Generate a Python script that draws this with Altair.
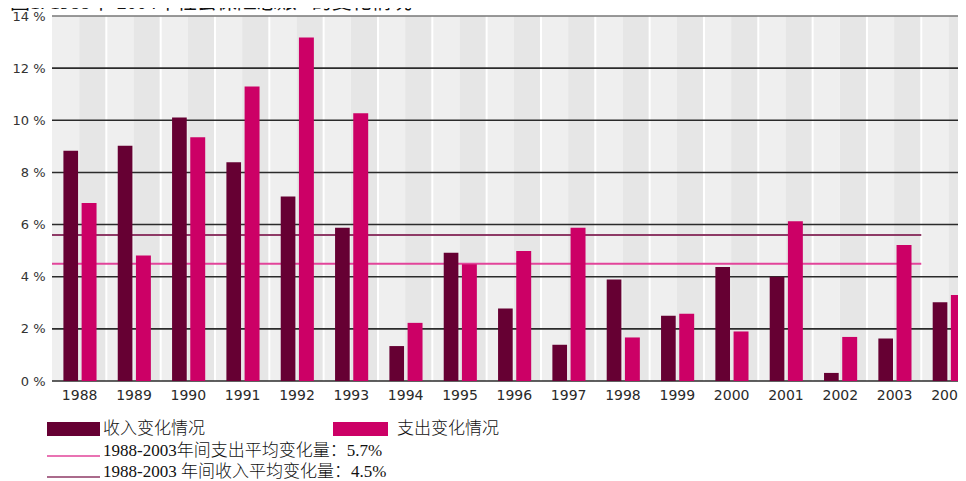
import altair as alt
import pandas as pd

# ---- data ----
years = list(range(1988, 2005))
income = [8.83, 9.02, 10.11, 8.39, 7.08, 5.88, 1.34, 4.92, 2.78, 1.39, 3.89, 2.50, 4.37, 4.00, 0.31, 1.63, 3.02]
expense = [6.83, 4.81, 9.35, 11.30, 13.18, 10.27, 2.23, 4.48, 4.99, 5.88, 1.67, 2.58, 1.90, 6.13, 1.69, 5.22, 3.30]
y_ticks = [0, 2, 4, 6, 8, 10, 12, 14]
mean_names = ["income_avg_line", "expense_avg_line"]
mean_values = [5.6, 4.5]
mean_span = [1987.5, 2003.5]

title_text = "图1. 1988年-2004年社会保险总账* 的变化情况"
legend_income = "收入变化情况"
legend_expense = "支出变化情况"
legend_line1 = "1988-2003年间支出平均变化量：5.7%"
legend_line2 = "1988-2003 年间收入平均变化量：4.5%"

# ---- styles ----
DARK = "#660033"
PINK = "#cc0066"
DARK_LINE = "#8e3a66"
PINK_LINE = "#e2449a"
SERIF = "Liberation Serif, Noto Sans CJK SC"

W, H = 906, 365

df_years = pd.DataFrame({"year": years})
df_bars = pd.DataFrame({"year": years, "income": income, "expense": expense})
df_grid = pd.DataFrame({"v": y_ticks})
df_mean = pd.DataFrame({"name": mean_names, "v": mean_values,
                        "a": [mean_span[0]] * 2, "b": [mean_span[1]] * 2})
one = pd.DataFrame({"k": [0]})

X = alt.Scale(domain=[1987.5, 1987.5 + W / 54.33], nice=False, zero=False)
Y = alt.Scale(domain=[0, 14], nice=False, zero=True)

x_axis = alt.Axis(values=years, format="d", title=None, grid=False, domain=False,
                  ticks=False, labelPadding=7, labelFontSize=14, labelFont="DejaVu Sans",
                  labelColor="#2a2a2a", labelFlush=False)
y_axis = alt.Axis(values=y_ticks, labelExpr="datum.value + ' %'", title=None, grid=False,
                  domain=False, ticks=False, labelPadding=7, labelFontSize=13,
                  labelFont="DejaVu Sans", labelColor="#333333")

bg_light = alt.Chart(df_years).transform_calculate(
    a="datum.year - 0.5", b="datum.year"
).mark_rect(color="#efefef", clip=True).encode(
    x=alt.X("a:Q", scale=X, axis=x_axis), x2="b:Q",
    y=alt.Y(datum=0, type="quantitative", scale=Y, axis=y_axis), y2=alt.Y2(datum=14),
)
bg_dark = alt.Chart(df_years).transform_calculate(
    a="datum.year", b="datum.year + 0.5"
).mark_rect(color="#e6e6e6", clip=True).encode(
    x=alt.X("a:Q", scale=X, axis=x_axis), x2="b:Q",
    y=alt.Y(datum=0, type="quantitative", scale=Y, axis=y_axis), y2=alt.Y2(datum=14),
)
seps = alt.Chart(df_years).transform_calculate(
    a="datum.year + 0.5"
).mark_rule(color="white", strokeWidth=2, clip=True).encode(
    x=alt.X("a:Q", scale=X, axis=x_axis),
)

grid = alt.Chart(df_grid).mark_rule(strokeWidth=1.6).encode(
    y=alt.Y("v:Q", scale=Y, axis=y_axis),
    color=alt.condition("datum.v == 14", alt.value("#777777"), alt.value("#2b2b2b")),
)

mean_lines = alt.Chart(df_mean).mark_rule(strokeWidth=2).encode(
    x=alt.X("a:Q", scale=X, axis=x_axis), x2="b:Q",
    y=alt.Y("v:Q", scale=Y, axis=y_axis),
    color=alt.Color("name:N", scale=alt.Scale(domain=mean_names, range=[DARK_LINE, PINK_LINE]),
                    legend=None),
)

bars_income = alt.Chart(df_bars).transform_calculate(
    a="datum.year - 0.29", b="datum.year - 0.02"
).mark_bar(color=DARK, clip=True).encode(
    x=alt.X("a:Q", scale=X, axis=x_axis), x2="b:Q",
    y=alt.Y("income:Q", scale=Y, axis=y_axis), y2=alt.Y2(datum=0),
)
bars_expense = alt.Chart(df_bars).transform_calculate(
    a="datum.year + 0.045", b="datum.year + 0.32"
).mark_bar(color=PINK, clip=True).encode(
    x=alt.X("a:Q", scale=X, axis=x_axis), x2="b:Q",
    y=alt.Y("expense:Q", scale=Y, axis=y_axis), y2=alt.Y2(datum=0),
)

# ---- custom legend and title (layout decorations) ----
sw_income = alt.Chart(one).mark_rect(color=DARK).encode(
    x=alt.value(-5), x2=alt.value(48), y=alt.value(406), y2=alt.value(420))
sw_expense = alt.Chart(one).mark_rect(color=PINK).encode(
    x=alt.value(281), x2=alt.value(336), y=alt.value(406), y2=alt.value(420))
ln_1 = alt.Chart(one).mark_rule(color=PINK_LINE, strokeWidth=1.5).encode(
    x=alt.value(-5), x2=alt.value(48), y=alt.value(440))
ln_2 = alt.Chart(one).mark_rule(color=DARK_LINE, strokeWidth=1.5).encode(
    x=alt.value(-5), x2=alt.value(48), y=alt.value(461))

def label(txt, x, y, size=17):
    return alt.Chart(one).mark_text(align="left", baseline="middle", font=SERIF,
                                    fontSize=size, color="#111111", fontWeight=300).encode(
        x=alt.value(x), y=alt.value(y), text=alt.value(txt))

t_income = label(legend_income, 51, 413)
t_expense = label(legend_expense, 345, 413)
t_l1 = label(legend_line1, 51, 435)
t_l2 = label(legend_line2, 51, 456)
t_title = alt.Chart(one).mark_text(align="left", baseline="alphabetic", font=SERIF,
                                   fontSize=20, color="#111111").encode(
    x=alt.value(-42), y=alt.value(-7), text=alt.value(title_text))

chart = alt.layer(
    bg_light, bg_dark, seps, grid, mean_lines, bars_income, bars_expense,
    sw_income, sw_expense, ln_1, ln_2, t_income, t_expense, t_l1, t_l2, t_title,
).properties(
    width=W, height=H,
    autosize=alt.AutoSizeParams(type="none"),
    padding={"left": 44, "top": 8, "right": 0, "bottom": 100},
).configure_view(stroke=None)

chart.save("out.html", embed_options={"renderer": "svg", "actions": False})
